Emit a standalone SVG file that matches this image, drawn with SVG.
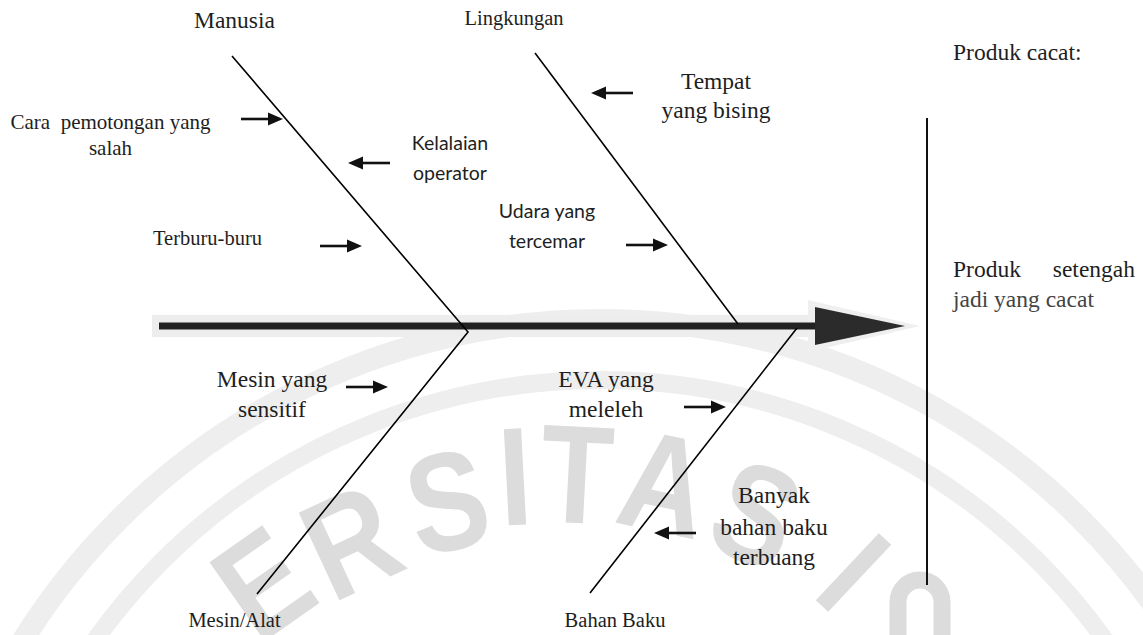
<svg xmlns="http://www.w3.org/2000/svg" xmlns:xlink="http://www.w3.org/1999/xlink" width="1143" height="635" viewBox="0 0 1143 635">
<style>
.s{font-family:"Liberation Serif","Times New Roman",serif;fill:#1e1e1e}
.c{font-family:Lato,"Liberation Sans",sans-serif;fill:#1e1e1e}
.m{text-anchor:middle}
.bone{stroke:#000;stroke-width:1.6;fill:none}
.wm{font-family:"Liberation Sans",Arial,sans-serif;font-size:140px;font-weight:bold;fill:#dcdcdc;text-anchor:middle}
.arc{fill:none;stroke:#eeeeee}
.wf{fill:none;stroke:#dcdcdc;stroke-width:17}
</style>
<defs>
<g id="arR"><line x1="-42" y1="0" x2="-12" y2="0" stroke="#111" stroke-width="2.6"/><polygon points="-15,-6.5 0,0 -15,6.5" fill="#111"/></g>
<g id="arL"><line x1="42" y1="0" x2="12" y2="0" stroke="#111" stroke-width="2.6"/><polygon points="15,-6.5 0,0 15,6.5" fill="#111"/></g>
</defs>
<rect width="1143" height="635" fill="#fff"/>
<g id="watermark">
<circle class="arc" cx="600" cy="1000" r="680" stroke-width="22"/>
<circle class="arc" cx="600" cy="1000" r="620" stroke-width="18"/>
<text class="wm" transform="translate(262,582) rotate(-35) scale(0.85,1)" y="50">E</text>
<text class="wm" transform="translate(350,540) rotate(-25) scale(0.85,1)" y="50">R</text>
<text class="wm" transform="translate(447,500) rotate(-12) scale(0.85,1)" y="50">S</text>
<text class="wm" transform="translate(515,475) rotate(-3) scale(0.85,1)" y="50">I</text>
<text class="wm" transform="translate(577,473) rotate(3) scale(0.85,1)" y="50">T</text>
<text class="wm" transform="translate(665,482) rotate(12) scale(0.85,1)" y="50">A</text>
<text class="wm" transform="translate(757,513) rotate(22) scale(0.85,1)" y="50">S</text>
<line class="wf" x1="822" y1="606" x2="885" y2="539"/>
<path class="wf" d="M898,640 V602 A22,22 0 0 1 942,602 V640"/>
</g>
<g id="connectors">
<path d="M152,326 L815,326" stroke="#ededed" stroke-width="22" fill="none"/>
<polygon points="808,300 920,326 808,352" fill="#efefef"/>
<line x1="159" y1="326" x2="820" y2="326" stroke="#222" stroke-width="7"/>
<polygon points="815,307 905,326 815,345" fill="#2b2b2b"/>
<line x1="927" y1="118" x2="927" y2="585" stroke="#111" stroke-width="2"/>
<polyline class="bone" points="232,56 468,332 257,594"/>
<line class="bone" x1="535" y1="53" x2="738" y2="324"/>
<line class="bone" x1="797" y1="328" x2="590" y2="593"/>
<use xlink:href="#arR" x="283" y="119"/>
<use xlink:href="#arL" x="348" y="163"/>
<use xlink:href="#arR" x="362" y="246"/>
<use xlink:href="#arL" x="591" y="93"/>
<use xlink:href="#arR" x="668" y="245"/>
<use xlink:href="#arR" x="388" y="387"/>
<use xlink:href="#arR" x="726" y="407"/>
<use xlink:href="#arL" x="654" y="533"/>
</g>
<g id="manusia"><text class="s m" x="234.5" y="28" font-size="23.5">Manusia</text></g>
<g id="lingkungan"><text class="s m" x="514" y="25" font-size="20.5">Lingkungan</text></g>
<g id="mesin-alat"><text class="s m" x="234.5" y="627" font-size="20.5">Mesin/Alat</text></g>
<g id="bahan-baku"><text class="s m" x="615" y="627" font-size="20.5">Bahan Baku</text></g>
<g id="cara"><text class="s m" x="110.5" y="129" font-size="21" xml:space="preserve">Cara  pemotongan yang</text><text class="s m" x="110.5" y="155" font-size="21">salah</text></g>
<g id="terburu"><text class="s m" x="207.5" y="245" font-size="20.5">Terburu-buru</text></g>
<g id="kelalaian"><text class="c m" x="450" y="150" font-size="19.5">Kelalaian</text><text class="c m" x="450" y="180" font-size="19.5">operator</text></g>
<g id="tempat"><text class="s m" x="716" y="89" font-size="23.5">Tempat</text><text class="s m" x="716" y="118" font-size="23.5">yang bising</text></g>
<g id="udara"><text class="c m" x="547" y="218" font-size="19.5">Udara yang</text><text class="c m" x="547" y="248" font-size="19.5">tercemar</text></g>
<g id="mesin-sensitif"><text class="s m" x="272" y="387" font-size="23.5">Mesin yang</text><text class="s m" x="272" y="417" font-size="23.5">sensitif</text></g>
<g id="eva"><text class="s m" x="606" y="387" font-size="23.5">EVA yang</text><text class="s m" x="606" y="417" font-size="23.5">meleleh</text></g>
<g id="banyak"><text class="s m" x="774" y="503" font-size="23.5">Banyak</text><text class="s m" x="774" y="535" font-size="23.5">bahan baku</text><text class="s m" x="774" y="565" font-size="23.5">terbuang</text></g>
<g id="produk-cacat"><text class="s" x="953" y="60" font-size="23.5">Produk cacat:</text></g>
<g id="produk-setengah"><text class="s" x="953" y="277" font-size="23.5">Produk</text><text class="s" x="1135" y="277" font-size="23.5" text-anchor="end">setengah</text><text class="s" x="953" y="307" font-size="23.5" style="fill:#444">jadi yang cacat</text></g>
</svg>
